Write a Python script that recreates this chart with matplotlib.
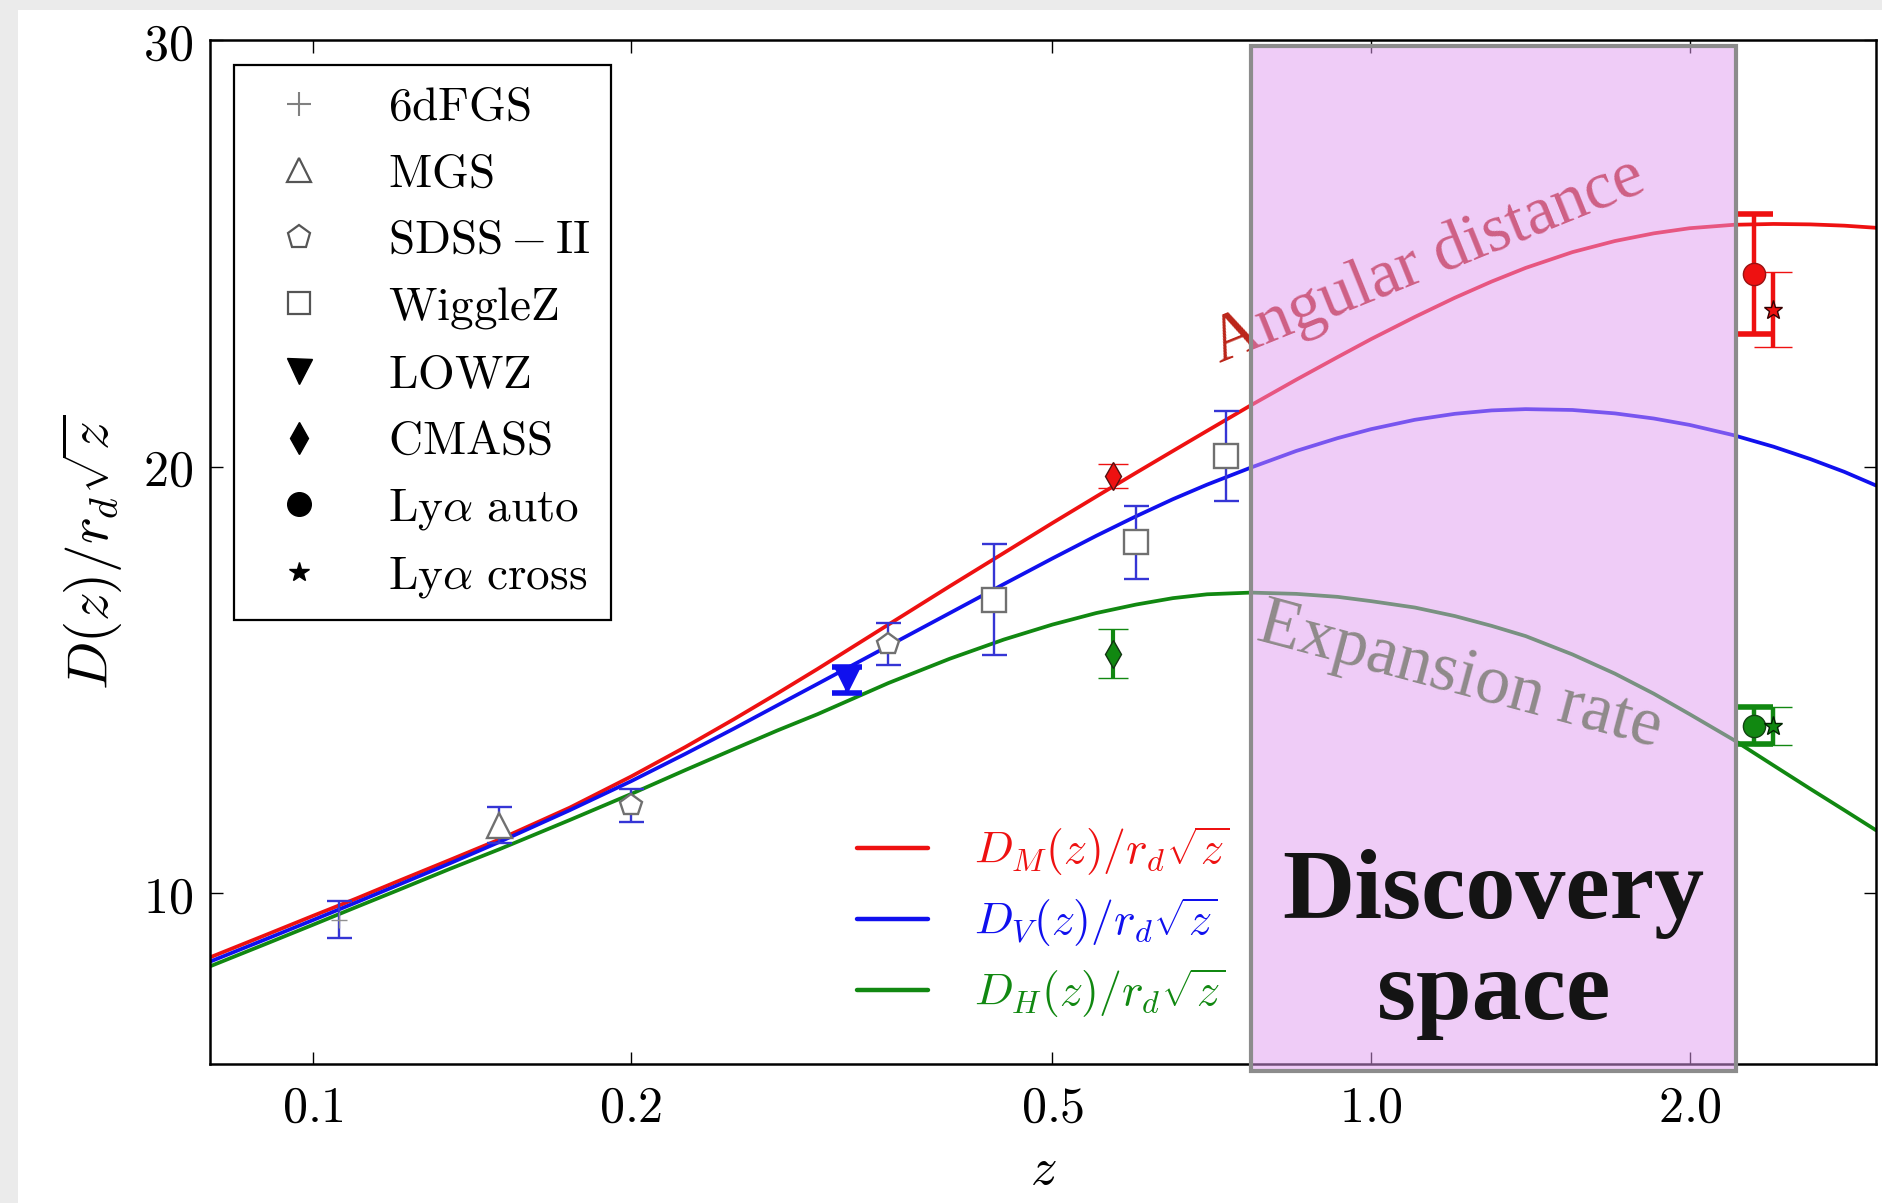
import matplotlib
matplotlib.use('Agg')
import matplotlib.pyplot as plt
from matplotlib.patches import Rectangle
from matplotlib.lines import Line2D
from matplotlib.ticker import FixedLocator, FixedFormatter, NullLocator

plt.rcParams['mathtext.fontset'] = 'cm'
plt.rcParams['font.family'] = ['DejaVu Serif']

# ---------------- data ----------------
z_model = [0.08, 0.09, 0.10, 0.11, 0.12, 0.135, 0.15, 0.175, 0.2, 0.225, 0.25, 0.275,
           0.3, 0.35, 0.4, 0.45, 0.5, 0.55, 0.6, 0.65, 0.7, 0.77, 0.85, 0.93, 1.0,
           1.1, 1.2, 1.3, 1.4, 1.55, 1.7, 1.85, 2.0, 2.2, 2.4, 2.6, 2.8, 3.0]
dm_model = [8.50, 9.01, 9.47, 9.88, 10.27, 10.79, 11.26, 12.01, 12.74, 13.43, 14.08, 14.69,
            15.26, 16.30, 17.20, 17.98, 18.68, 19.30, 19.86, 20.37, 20.84, 21.44, 22.04,
            22.57, 22.99, 23.51, 23.96, 24.34, 24.66, 25.03, 25.29, 25.47, 25.59, 25.67,
            25.69, 25.68, 25.65, 25.60]
dv_model = [8.40, 8.91, 9.37, 9.79, 10.18, 10.71, 11.20, 11.95, 12.63, 13.27, 13.86, 14.41,
            14.91, 15.80, 16.57, 17.25, 17.85, 18.38, 18.84, 19.24, 19.58, 19.98, 20.37,
            20.67, 20.88, 21.10, 21.24, 21.32, 21.35, 21.33, 21.25, 21.13, 20.98, 20.74,
            20.47, 20.18, 19.88, 19.56]
dh_model = [8.29, 8.80, 9.26, 9.68, 10.06, 10.58, 11.03, 11.72, 12.33, 12.89, 13.38, 13.82,
            14.20, 14.93, 15.50, 15.95, 16.30, 16.57, 16.77, 16.92, 17.01, 17.05, 17.02,
            16.95, 16.85, 16.70, 16.50, 16.27, 16.03, 15.60, 15.15, 14.68, 14.20, 13.60,
            13.00, 12.45, 11.95, 11.48]

sixdf_z, sixdf_v, sixdf_e = [0.106], [9.38], [0.43]
mgs_z, mgs_v, mgs_e = [0.15], [11.6], [0.43]
sdss_z, sdss_v, sdss_e = [0.2, 0.35], [12.06, 15.84], [0.39, 0.49]
wigglez_z, wigglez_v, wigglez_e = [0.44, 0.6, 0.73], [16.88, 18.23, 20.25], [1.3, 0.86, 1.05]
lowz_z, lowz_v, lowz_e = [0.32], [15.0], [0.3]
cmass_z = [0.57]
cmass_dm, cmass_dm_e = [19.78], [0.28]
cmass_dh, cmass_dh_e = [15.62], [0.57]
lya_auto_z = [2.30]
lya_auto_dm, lya_auto_dm_e = [24.52], [1.4]
lya_auto_dh, lya_auto_dh_e = [13.93], [0.43]
lya_cross_z = [2.40]
lya_cross_dm, lya_cross_dm_e = [23.68], [0.88]
lya_cross_dh, lya_cross_dh_e = [13.93], [0.45]

survey_labels = [r'$\mathrm{6dFGS}$', r'$\mathrm{MGS}$', r'$\mathrm{SDSS-II}$',
                 r'$\mathrm{WiggleZ}$', r'$\mathrm{LOWZ}$', r'$\mathrm{CMASS}$',
                 r'$\mathrm{Ly}\alpha\ \mathrm{auto}$', r'$\mathrm{Ly}\alpha\ \mathrm{cross}$']
curve_labels = [r'$D_M(z)/r_d\sqrt{z}$', r'$D_V(z)/r_d\sqrt{z}$', r'$D_H(z)/r_d\sqrt{z}$']
xticks = [0.1, 0.2, 0.5, 1.0, 2.0]
xticklabels = [r'$0.1$', r'$0.2$', r'$0.5$', r'$1.0$', r'$2.0$']
yticks = [10, 20, 30]
yticklabels = [r'$10$', r'$20$', r'$30$']
box_z = [0.77, 2.21]

# ---------------- figure ----------------
fig = plt.figure(figsize=(18.83, 12.03), dpi=100, facecolor='#ebebeb')
fig.add_artist(Rectangle((0.0096, 0.0), 0.9904, 0.992, transform=fig.transFigure,
                         facecolor='white', edgecolor='none', zorder=-10))
ax = fig.add_axes([0.1115, 0.1155, 0.8848, 0.8512])
ax.set_xscale('log')
ax.set_xlim(0.08, 3.0)
ax.set_ylim(6, 30)

RED, BLUE, GREEN = '#ee1111', '#1010ee', '#118811'
l1, = ax.plot(z_model, dm_model, color=RED, lw=2.7, zorder=2, solid_capstyle='round')
l2, = ax.plot(z_model, dv_model, color=BLUE, lw=2.7, zorder=2, solid_capstyle='round')
l3, = ax.plot(z_model, dh_model, color=GREEN, lw=2.7, zorder=2, solid_capstyle='round')

EB = '#3535d5'
OPEN = dict(mfc='white', mec='#707070', mew=1.7)
ax.errorbar(sixdf_z, sixdf_v, yerr=sixdf_e, fmt='+', color='#909090', ms=12,
            ecolor=EB, elinewidth=1.7, capsize=9, capthick=1.7, zorder=3)
ax.errorbar(mgs_z, mgs_v, yerr=mgs_e, fmt='^', ms=18, ecolor=EB, elinewidth=1.7,
            capsize=9, capthick=1.7, zorder=3, **OPEN)
ax.errorbar(sdss_z, sdss_v, yerr=sdss_e, fmt='p', ms=16, ecolor=EB, elinewidth=1.7,
            capsize=9, capthick=1.7, zorder=3, **OPEN)
ax.errorbar(wigglez_z, wigglez_v, yerr=wigglez_e, fmt='s', ms=17, ecolor=EB,
            elinewidth=1.7, capsize=9, capthick=1.7, zorder=3, **OPEN)
ax.errorbar(lowz_z, lowz_v, yerr=lowz_e, fmt='v', ms=17, color=BLUE, mec=BLUE,
            ecolor=BLUE, elinewidth=3, capsize=11, capthick=4, zorder=3)
ax.errorbar(cmass_z, cmass_dm, yerr=cmass_dm_e, fmt='d', ms=14, color=RED, mec='#551111',
            mew=1, ecolor=RED, elinewidth=3, capsize=11, capthick=4, zorder=3)
ax.errorbar(cmass_z, cmass_dh, yerr=cmass_dh_e, fmt='d', ms=14, color=GREEN, mec='#113311',
            mew=1, ecolor=GREEN, elinewidth=3, capsize=11, capthick=4, zorder=3)
ax.errorbar(lya_auto_z, lya_auto_dm, yerr=lya_auto_dm_e, fmt='o', ms=16, color=RED,
            mec='#991111', ecolor=RED, elinewidth=3.2, capsize=14, capthick=4, zorder=3)
ax.errorbar(lya_auto_z, lya_auto_dh, yerr=lya_auto_dh_e, fmt='o', ms=16, color=GREEN,
            mec='#114411', ecolor=GREEN, elinewidth=3.2, capsize=14, capthick=4, zorder=3)
ax.errorbar(lya_cross_z, lya_cross_dm, yerr=lya_cross_dm_e, fmt='*', ms=14, color=RED,
            mec='#330000', mew=1, ecolor=RED, elinewidth=3.2, capsize=14, capthick=4, zorder=3)
ax.errorbar(lya_cross_z, lya_cross_dh, yerr=lya_cross_dh_e, fmt='*', ms=14, color=GREEN,
            mec='#002200', mew=1, ecolor=GREEN, elinewidth=3.2, capsize=14, capthick=4, zorder=3)

# annotation text under the box
ax.text(0.72, 22.43, 'Angular distance', rotation=22, rotation_mode='anchor',
        ha='left', va='baseline', fontsize=49, family='Liberation Serif',
        color='#bb2418', zorder=4)

# discovery box
ax.add_patch(Rectangle((box_z[0], 5.83), box_z[1] - box_z[0], 29.86 - 5.83,
                       facecolor=(225 / 255, 155 / 255, 241 / 255, 0.5),
                       edgecolor='#8c8c8c', lw=3, zorder=6, clip_on=False))

ax.text(0.776, 15.95, 'Expansion rate', rotation=-15, rotation_mode='anchor',
        ha='left', va='baseline', fontsize=50, family='Liberation Serif',
        color='#8f8a8a', zorder=7)
ax.text((box_z[0] * box_z[1]) ** 0.5, 8.8, 'Discovery\nspace', ha='center', va='center',
        fontsize=72, fontweight='bold', family='Liberation Serif', color='#141414',
        linespacing=1.15, zorder=7)

# axes styling
ax.xaxis.set_major_locator(FixedLocator(xticks))
ax.xaxis.set_major_formatter(FixedFormatter(xticklabels))
ax.xaxis.set_minor_locator(NullLocator())
ax.yaxis.set_major_locator(FixedLocator(yticks))
ax.yaxis.set_major_formatter(FixedFormatter(yticklabels))
ax.tick_params(axis='both', which='major', direction='in', length=9, width=1,
               top=True, right=True, labelsize=36)
ax.tick_params(axis='x', pad=14)
ax.tick_params(axis='y', pad=12)
for s in ax.spines.values():
    s.set_linewidth(1.8)
ax.set_xlabel(r'$z$', fontsize=38, labelpad=8)
ax.set_ylabel(r'$D(z)/r_d\sqrt{z}$', fontsize=41, labelpad=14)

# legends
handles = [
    Line2D([], [], ls='none', marker='+', color='#808080', ms=17, mew=1.5),
    Line2D([], [], ls='none', marker='^', mfc='white', mec='#555555', ms=17, mew=1.6),
    Line2D([], [], ls='none', marker='p', mfc='white', mec='#555555', ms=17, mew=1.6),
    Line2D([], [], ls='none', marker='s', mfc='white', mec='#555555', ms=16, mew=1.6),
    Line2D([], [], ls='none', marker='v', color='black', ms=18),
    Line2D([], [], ls='none', marker='d', color='black', ms=16),
    Line2D([], [], ls='none', marker='o', color='black', ms=17),
    Line2D([], [], ls='none', marker='*', color='black', ms=15),
]
leg1 = ax.legend(handles, survey_labels, loc='upper left', bbox_to_anchor=(0.0144, 0.9756),
                 borderaxespad=0, fontsize=34, frameon=True, fancybox=False,
                 edgecolor='black', framealpha=1, labelspacing=0.45, handletextpad=0.95,
                 borderpad=0.42, handlelength=1.9)
leg1.get_frame().set_linewidth(1.6)
leg1.set_zorder(8)
ax.add_artist(leg1)
leg2 = ax.legend([l1, l2, l3], curve_labels, loc='upper left', bbox_to_anchor=(0.3776, 0.252),
                 borderaxespad=0, fontsize=33, frameon=False, labelcolor='linecolor',
                 handlelength=1.55, handletextpad=1.0, labelspacing=0.38)
for ln in leg2.get_lines():
    ln.set_linewidth(3.2)
leg2.set_zorder(8)

fig.savefig('out.png', dpi=100, facecolor=fig.get_facecolor())
